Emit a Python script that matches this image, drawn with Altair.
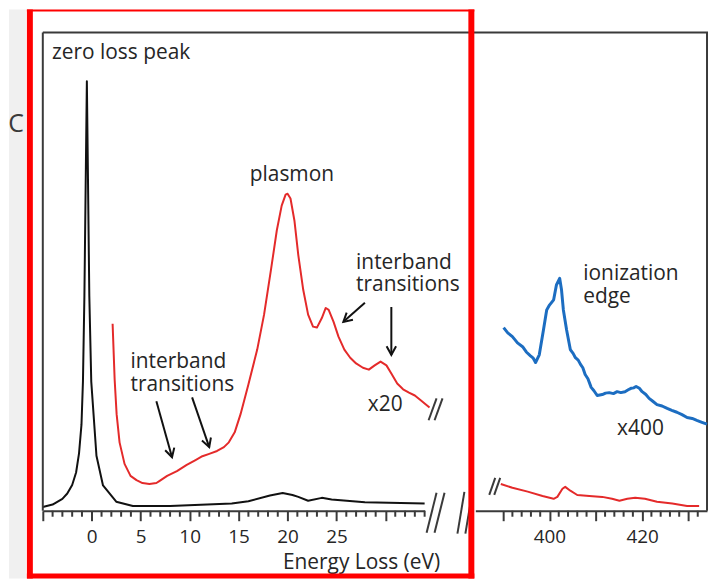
import math
import altair as alt
import pandas as pd

# ---------------- data ----------------
# zero-loss + low-loss spectrum (black), energy loss in eV, intensity in arb. units
zlp_ev = [-5.0, -4.0, -3.0, -2.5, -2.0, -1.6, -1.3, -1.05, -0.9, -0.75, -0.6, -0.5,
          -0.4, -0.25, -0.05, 0.48, 1.15, 2.5, 4.2, 8.0, 14.3, 16.0, 18.2, 19.5,
          20.5, 21.1, 22.1, 23.5, 24.5, 27.9, 34.0]
zlp_int = [0.8, 1.3, 2.5, 3.6, 5.4, 8.0, 12.0, 18.0, 27.0, 45.0, 72.0, 89.8,
           72.0, 45.0, 27.0, 11.5, 5.3, 1.9, 1.0, 1.0, 1.5, 2.0, 3.2, 3.7,
           3.3, 2.9, 2.1, 2.7, 2.35, 1.8, 1.5]

# low-loss x20 (red)
low_ev = [2.13, 2.34, 2.54, 2.84, 3.35, 3.96, 4.57, 5.18, 5.89, 6.6, 6.9, 7.7, 8.7,
          9.7, 10.6, 11.3, 12.0, 12.8, 13.5, 14.0, 14.6, 15.2, 16.0, 16.9, 17.6,
          18.3, 18.9, 19.4, 19.8, 20.0, 20.3, 20.7, 21.1, 21.6, 22.1, 22.6, 23.0,
          23.5, 23.9, 24.2, 24.7, 25.2, 25.8, 26.4, 27.0, 27.7, 28.3, 28.9, 29.5,
          30.1, 30.6, 31.2, 31.8, 32.4, 33.0, 33.6, 34.5]
low_int = [39.1, 27.4, 20.2, 14.3, 9.8, 7.3, 6.4, 5.8, 5.6, 5.8, 6.2, 7.3, 8.3,
           9.6, 10.6, 11.4, 11.9, 12.5, 13.3, 14.3, 16.4, 20.2, 26.4, 33.7, 41.0,
           50.3, 58.6, 63.8, 66.1, 66.3, 65.3, 60.7, 53.4, 46.2, 41.0, 38.5, 38.3,
           40.3, 42.4, 42.0, 39.5, 36.4, 33.7, 32.0, 30.8, 29.9, 29.5, 30.4, 31.2,
           30.4, 28.7, 26.6, 25.4, 24.7, 24.1, 23.1, 21.6]

# core-loss region (red, as recorded)
core_ev = [389.5, 392.0, 395.3, 398.5, 400.9, 401.7, 402.8, 403.4, 404.5, 406.0,
           408.6, 411.4, 413.5, 415.1, 416.8, 418.5, 420.6, 423.2, 426.5, 429.7, 432.3]
core_int = [5.6, 4.8, 4.0, 3.1, 2.5, 2.9, 4.6, 5.0, 4.2, 3.3,
            3.1, 2.9, 2.5, 2.1, 2.5, 2.7, 2.5, 1.9, 1.5, 1.0, 1.0]

# ionization edge x400 (blue)
edge_ev = [390.1, 391.0, 392.0, 393.1, 394.2, 395.0, 395.9, 396.5, 397.0, 397.8,
           398.7, 399.4, 400.0, 400.9, 401.5, 402.2, 402.6, 403.0, 403.7, 404.5,
           405.1, 405.6, 406.2, 406.7, 407.2, 407.7, 408.3, 409.0, 409.6, 410.3,
           411.4, 412.1, 412.9, 413.8, 414.6, 415.4, 416.3, 417.0, 417.6, 418.2,
           418.7, 419.4, 420.0, 420.8, 421.5, 422.3, 423.2, 424.3, 425.4, 426.4,
           427.5, 428.6, 429.7, 430.8, 431.8, 432.9, 434.0]
edge_int = [38.3, 37.2, 36.4, 35.1, 34.3, 33.2, 32.4, 31.9, 31.0, 32.6,
            37.8, 42.0, 43.0, 44.1, 47.2, 48.6, 46.2, 42.0, 37.8, 33.7,
            32.9, 32.0, 31.5, 30.6, 29.9, 28.5, 27.6, 25.8, 25.1, 24.1,
            24.3, 24.6, 24.7, 24.5, 24.9, 24.7, 24.9, 25.3, 25.6, 25.7,
            26.0, 25.6, 24.9, 24.3, 23.5, 22.9, 22.2, 21.9, 21.4, 21.0,
            20.6, 20.1, 19.5, 19.3, 18.9, 18.5, 18.1]

left_major = [-5, 0, 5, 10, 15, 20, 25, 30]
left_minor = [v for v in range(-4, 35) if v % 5 != 0]
right_major = [390, 400, 410, 420, 430]
right_minor = [v for v in range(392, 434, 2) if v % 10 != 0]

left_text = ["zero loss peak", "plasmon", "interband\ntransitions",
             "interband\ntransitions", "x20"]
left_text_x = [-4.06, 16.14, 27.0, 3.96, 28.2]
left_text_y = [95.7, 70.1, 51.9, 31.1, 22.2]

right_text = ["ionization\nedge", "x400"]
right_text_x = [407.3, 414.6]
right_text_y = [49.4, 17.0]

arrow_x0 = [6.6, 10.25, 27.9, 30.6]
arrow_y0 = [22.9, 23.7, 43.5, 42.6]
arrow_x1 = [8.2, 12.0, 25.7, 30.6]
arrow_y1 = [11.2, 13.3, 39.5, 32.6]

# ---------------- layout ----------------
W_L, W_R, H = 384, 233, 481
XL = [-5, 34]
XR = [384, 434]
xs_l = alt.Scale(domain=XL, nice=False, zero=False)
xs_r = alt.Scale(domain=XR, nice=False, zero=False)
ys = alt.Scale(domain=[0, 100], nice=False, zero=False)

FONT = "Open Sans"
INK = "#262626"
FRAME = "#3a3a3a"
RED = "#e42a2a"
BLUE = "#1c6dc1"

px_per_ev = W_L / (XL[1] - XL[0])
px_per_int = H / 100.0
arrow_angle = []
for a, b, c, d in zip(arrow_x0, arrow_y0, arrow_x1, arrow_y1):
    dx = (c - a) * px_per_ev
    dy = -(d - b) * px_per_int
    arrow_angle.append((-math.degrees(math.atan2(dx, dy))) % 360)

one = pd.DataFrame({"a": [0]})

axis_common = dict(tickSize=10, tickWidth=2, tickColor=FRAME, domainColor=FRAME,
                   domainWidth=2, labelFont=FONT, labelFontSize=19, labelColor=INK,
                   labelPadding=16, labelBaseline="middle", labelOverlap=False,
                   labelFlush=False, grid=False)

axis_l = alt.Axis(values=left_major,
                  labelExpr="datum.value >= 0 && datum.value <= 25 ? datum.label : ''",
                  title="Energy Loss (eV)", titleFont=FONT, titleFontSize=21,
                  titleFontWeight="normal", titleColor=INK, titleX=320, titleY=52,
                  titleAlign="center", titleBaseline="middle", **axis_common)
axis_r = alt.Axis(values=right_major,
                  labelExpr="datum.value == 400 || datum.value == 420 ? datum.label : ''",
                  title=None, **axis_common)


def prule(x, y, x2, y2, color=FRAME, w=2):
    return alt.Chart(one).mark_rule(color=color, strokeWidth=w).encode(
        x=alt.value(x), y=alt.value(y), x2=alt.value(x2), y2=alt.value(y2))


def prect(x, y, x2, y2, color):
    return alt.Chart(one).mark_rect(color=color, opacity=1).encode(
        x=alt.value(x), y=alt.value(y), x2=alt.value(x2), y2=alt.value(y2))


def line(ev, val, xs, ax, color, w):
    d = pd.DataFrame({"ev": ev, "v": val})
    return alt.Chart(d).mark_line(color=color, strokeWidth=w, strokeJoin="round").encode(
        x=alt.X("ev:Q", scale=xs, axis=ax),
        y=alt.Y("v:Q", scale=ys, axis=None))


def texts(t, x, y, xs, ax):
    d = pd.DataFrame({"t": t, "x": x, "y": y})
    return alt.Chart(d).mark_text(align="left", baseline="middle", font=FONT,
                                  fontSize=21, lineBreak="\n", lineHeight=23,
                                  color=INK).encode(
        x=alt.X("x:Q", scale=xs, axis=ax),
        y=alt.Y("y:Q", scale=ys, axis=None),
        text="t:N")


def minor_ticks(vals, xs, ax):
    d = pd.DataFrame({"v": vals})
    return alt.Chart(d).mark_rule(color=FRAME, strokeWidth=2).encode(
        x=alt.X("v:Q", scale=xs, axis=ax),
        y=alt.value(H), y2=alt.value(H + 6))


# arrows
arr = pd.DataFrame({"x0": arrow_x0, "y0": arrow_y0, "x1": arrow_x1, "y1": arrow_y1,
                    "ang": arrow_angle})
shafts = alt.Chart(arr).mark_rule(color="#111", strokeWidth=2).encode(
    x=alt.X("x0:Q", scale=xs_l, axis=axis_l), y=alt.Y("y0:Q", scale=ys, axis=None),
    x2="x1:Q", y2="y1:Q")
heads = alt.Chart(arr).mark_point(shape="M-0.55,-1L0,0L0.55,-1", filled=False, size=300,
                                  strokeWidth=2, color="#111", opacity=1).encode(
    x=alt.X("x1:Q", scale=xs_l, axis=axis_l), y=alt.Y("y1:Q", scale=ys, axis=None),
    angle=alt.Angle("ang:Q", scale=None))

# break marks "//" (pixel positions relative to the left panel)
breaks = [
    (388, 390, 396, 368), (394, 390, 402, 368),      # end of x20 trace
    (386, 503, 396, 463), (394, 503, 404, 463),      # axis break, left
    (417, 504, 424, 462), (425, 504, 432, 462),      # axis break, right
    (449, 465, 455, 448), (454, 465, 460, 448),      # start of core-loss trace
]
break_layers = [prule(a, b, c, d, FRAME, 2) for a, b, c, d in breaks]

left = alt.layer(
    line(zlp_ev, zlp_int, xs_l, axis_l, "#111111", 2),
    prect(-34, -23, -17, 549, "#f0f0f0"),
    alt.Chart(one).mark_text(font=FONT, fontSize=25, color="#3a3a3a", align="center",
                             baseline="middle").encode(
        x=alt.value(-27), y=alt.value(92), text=alt.value("C")),
    prule(0, 0, 669, 0),
    prule(0, 0, 0, H),
    minor_ticks(left_minor, xs_l, axis_l),
    line(low_ev, low_int, xs_l, axis_l, RED, 2),
    texts(left_text, left_text_x, left_text_y, xs_l, axis_l),
    shafts,
    heads,
    *break_layers,
    prect(-16, -23, 434, -21, "#ff0000"),
    prect(-16, -23, -10, 549, "#ff0000"),
    prect(428, -23, 434, 549, "#ff0000"),
    prect(-16, 544, 434, 549, "#ff0000"),
).properties(width=W_L, height=H)

right = alt.layer(
    line(core_ev, core_int, xs_r, axis_r, RED, 2),
    prule(W_R, 0, W_R, H),
    minor_ticks(right_minor, xs_r, axis_r),
    line(edge_ev, edge_int, xs_r, axis_r, BLUE, 3),
    texts(right_text, right_text_x, right_text_y, xs_r, axis_r),
).properties(width=W_R, height=H)

chart = alt.hconcat(left, right, spacing=51, bounds="flush").properties(
    padding=0, background="white"
).configure_view(stroke=None)

chart.save("out.html", embed_options={"renderer": "svg", "actions": False})
